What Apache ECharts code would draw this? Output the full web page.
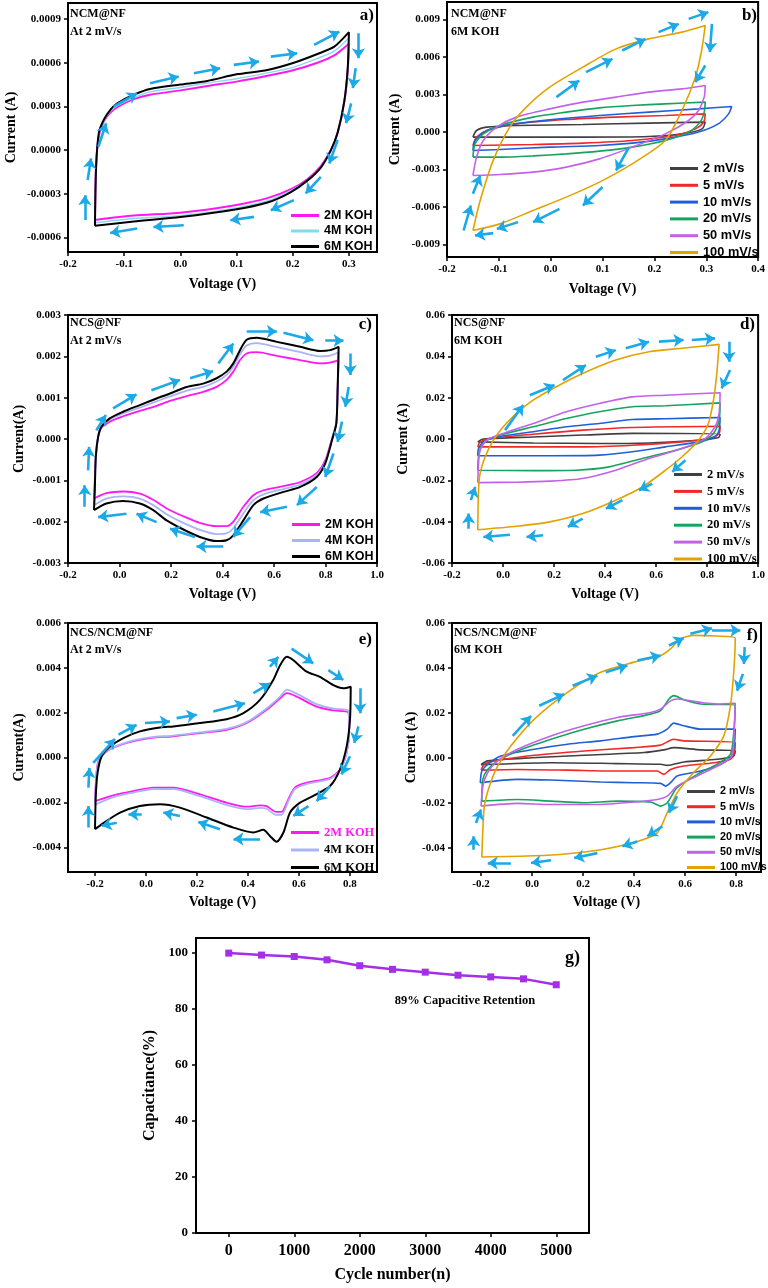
<!DOCTYPE html>
<html>
<head>
<meta charset="utf-8">
<script src="https://cdn.jsdelivr.net/npm/echarts@6/dist/echarts.min.js"></script>
<style>html,body{margin:0;padding:0;background:#fff}#c{width:768px;height:1288px}</style>
</head>
<body>
<div id="c"></div>
<script>
// ---------- DATA ----------
// Panel a: NCM@NF at 2 mV/s (V, A)
const a_2M = [[-0.152,-0.00048],[-0.150,-0.0001],[-0.145,0.0001],[-0.136,0.0002],[-0.124,0.00026],[-0.11,0.0003],[-0.083,0.00035],[-0.054,0.00038],[0.0,0.00041],[0.048,0.00044],[0.1,0.00047],[0.155,0.00051],[0.202,0.00055],[0.244,0.0006],[0.274,0.00065],[0.300,0.00073],[0.298,0.00055],[0.292,0.00034],[0.28,0.00012],[0.268,0.0],[0.25,-0.00011],[0.226,-0.0002],[0.196,-0.00027],[0.155,-0.00033],[0.095,-0.00038],[0.0,-0.00043],[-0.083,-0.00045],[-0.152,-0.00048]];
const a_4M = [[-0.152,-0.0005],[-0.150,-0.00011],[-0.145,0.00011],[-0.136,0.0002],[-0.124,0.00027],[-0.11,0.00031],[-0.083,0.00036],[-0.054,0.0004],[0.0,0.00043],[0.048,0.00046],[0.1,0.00049],[0.155,0.00053],[0.202,0.00057],[0.244,0.00063],[0.274,0.00068],[0.300,0.00077],[0.298,0.00056],[0.292,0.00034],[0.28,0.00012],[0.268,0.0],[0.25,-0.00012],[0.226,-0.00021],[0.196,-0.00028],[0.155,-0.00035],[0.095,-0.0004],[0.0,-0.00045],[-0.083,-0.00047],[-0.152,-0.0005]];
const a_6M = [[-0.152,-0.00052],[-0.150,-0.00012],[-0.145,0.00012],[-0.136,0.00021],[-0.124,0.00028],[-0.113,0.00032],[-0.083,0.00038],[-0.054,0.00042],[0.0,0.00045],[0.048,0.000475],[0.1,0.00052],[0.155,0.00055],[0.202,0.0006],[0.244,0.00066],[0.274,0.00071],[0.300,0.00081],[0.298,0.00057],[0.292,0.00034],[0.28,0.00012],[0.268,0.0],[0.25,-0.00012],[0.226,-0.00021],[0.196,-0.00029],[0.155,-0.00036],[0.095,-0.00041],[0.0,-0.00046],[-0.083,-0.00049],[-0.152,-0.00052]];
const a_arrows = [[-0.170,-0.00048,-0.170,-0.00031],[-0.165,-0.000206,-0.159,-0.000057],[-0.146,0.000023,-0.132,0.000184],[-0.119,0.000298,-0.077,0.00039],[-0.054,0.000459,-0.003,0.000505],[0.024,0.000528,0.071,0.000562],[0.095,0.000585,0.140,0.000608],[0.161,0.000642,0.208,0.000665],[0.238,0.000723,0.283,0.000814],[0.317,0.000803,0.317,0.000631],[0.312,0.000562,0.307,0.000425],[0.304,0.000321,0.295,0.000184],[0.280,0.000069,0.265,-0.000092],[0.25,-0.000184,0.223,-0.000298],[0.202,-0.000344,0.161,-0.000413],[0.131,-0.000459,0.089,-0.000482],[0.006,-0.000516,-0.048,-0.000528],[-0.077,-0.000539,-0.125,-0.000569]];

// Panel b: NCM@NF 6M KOH, scan rates
const b_2 = [[-0.150,-0.00041],[-0.143,0.00012],[-0.123,0.00039],[-0.066,0.00052],[0.062,0.0006],[0.189,0.00071],[0.298,0.00079],[0.292,0.00025],[0.253,-0.00015],[0.189,-0.00036],[0.062,-0.00041],[-0.066,-0.00041],[-0.150,-0.00041]];
const b_5 = [[-0.150,-0.00108],[-0.143,-0.00041],[-0.123,0.00012],[-0.066,0.00065],[0.030,0.001],[0.126,0.00119],[0.221,0.00132],[0.298,0.00145],[0.295,0.00079],[0.279,0.00025],[0.240,-0.00028],[0.157,-0.00068],[0.062,-0.00089],[-0.034,-0.001],[-0.150,-0.00108]];
const b_10 = [[-0.150,-0.00148],[-0.146,-0.00068],[-0.123,0.00012],[-0.079,0.00059],[-0.002,0.00097],[0.094,0.00132],[0.189,0.00159],[0.285,0.00185],[0.349,0.00204],[0.343,0.00145],[0.323,0.00065],[0.285,0.0],[0.221,-0.00055],[0.157,-0.00089],[0.094,-0.00108],[-0.002,-0.00121],[-0.098,-0.0014],[-0.150,-0.00148]];
const b_20 = [[-0.150,-0.00201],[-0.146,-0.00095],[-0.130,-0.00015],[-0.098,0.00052],[-0.034,0.00119],[0.030,0.00159],[0.094,0.00193],[0.157,0.00212],[0.221,0.00225],[0.298,0.00239],[0.296,0.00159],[0.288,0.00079],[0.266,-0.00001],[0.221,-0.00068],[0.157,-0.00121],[0.094,-0.00153],[0.030,-0.00175],[-0.034,-0.00191],[-0.098,-0.00201],[-0.150,-0.00201]];
const b_50 = [[-0.150,-0.00348],[-0.143,-0.00201],[-0.130,-0.00068],[-0.104,0.00039],[-0.066,0.00119],[-0.002,0.00185],[0.062,0.00239],[0.126,0.00279],[0.189,0.00319],[0.253,0.00345],[0.298,0.00372],[0.296,0.00279],[0.285,0.00172],[0.266,0.00092],[0.221,-0.00015],[0.157,-0.00121],[0.094,-0.00215],[0.030,-0.00281],[-0.034,-0.00321],[-0.098,-0.0034],[-0.150,-0.00348]];
const b_100 = [[-0.150,-0.00788],[-0.136,-0.00548],[-0.111,-0.00229],[-0.079,0.00039],[-0.047,0.00199],[-0.002,0.00359],[0.062,0.00519],[0.126,0.00665],[0.189,0.00745],[0.253,0.00799],[0.298,0.00852],[0.291,0.00652],[0.279,0.00439],[0.253,0.00172],[0.221,-0.00068],[0.157,-0.00255],[0.094,-0.00401],[0.030,-0.00521],[-0.034,-0.00628],[-0.098,-0.00735],[-0.150,-0.00788]];
const b_arrows = [[-0.168,-0.00788,-0.154,-0.00588],[-0.150,-0.00494,-0.136,-0.00348],[0.011,0.00279,0.055,0.00412],[0.068,0.00479,0.119,0.00585],[0.138,0.00652,0.183,0.00745],[0.208,0.00799,0.247,0.00865],[0.266,0.00905,0.304,0.00959],[0.311,0.00865,0.307,0.00639],[0.298,0.00532,0.279,0.00399],[0.151,-0.00121,0.126,-0.00308],[0.100,-0.0044,0.062,-0.00588],[0.017,-0.00615,-0.034,-0.00721],[-0.063,-0.00721,-0.104,-0.00775],[-0.111,-0.00809,-0.146,-0.00828]];

// Panel c: NCS@NF at 2 mV/s
const c_2M = [[-0.099,-0.00144],[-0.096,-0.0010],[-0.092,-0.00043],[-0.077,0.00021],[-0.038,0.00042],[0.014,0.00055],[0.079,0.00068],[0.144,0.0008],[0.196,0.00092],[0.261,0.00104],[0.325,0.00114],[0.377,0.00126],[0.416,0.00143],[0.442,0.00163],[0.468,0.00191],[0.494,0.00207],[0.533,0.0021],[0.611,0.00201],[0.702,0.00191],[0.779,0.00183],[0.818,0.00185],[0.851,0.0019],[0.847,0.00118],[0.842,0.00038],[0.825,0.0],[0.799,-0.00051],[0.766,-0.00082],[0.702,-0.00104],[0.637,-0.00114],[0.559,-0.00124],[0.520,-0.00136],[0.481,-0.00164],[0.442,-0.002],[0.416,-0.00211],[0.377,-0.00211],[0.312,-0.00203],[0.248,-0.00187],[0.183,-0.00168],[0.131,-0.00147],[0.079,-0.00132],[0.014,-0.00127],[-0.051,-0.00131],[-0.099,-0.00144]];
const c_4M = [[-0.099,-0.0016],[-0.096,-0.0012],[-0.092,-0.00043],[-0.083,0.00005],[-0.070,0.00027],[-0.038,0.00047],[0.014,0.00062],[0.079,0.00076],[0.144,0.00091],[0.196,0.00103],[0.261,0.00117],[0.325,0.00126],[0.377,0.00139],[0.416,0.00155],[0.442,0.00175],[0.468,0.00205],[0.494,0.00226],[0.533,0.00232],[0.611,0.00222],[0.702,0.0021],[0.779,0.002],[0.818,0.00202],[0.851,0.0021],[0.847,0.00118],[0.842,0.00038],[0.825,-0.00002],[0.799,-0.00055],[0.766,-0.00087],[0.702,-0.0011],[0.637,-0.00121],[0.559,-0.00134],[0.520,-0.00148],[0.481,-0.0018],[0.442,-0.00216],[0.416,-0.00228],[0.377,-0.0023],[0.312,-0.0022],[0.248,-0.00203],[0.183,-0.00182],[0.131,-0.0016],[0.079,-0.00144],[0.014,-0.00139],[-0.051,-0.00144],[-0.099,-0.0016]];
const c_6M = [[-0.099,-0.00172],[-0.096,-0.00124],[-0.092,-0.00043],[-0.083,0.00005],[-0.070,0.0003],[-0.038,0.0005],[0.014,0.00066],[0.079,0.00082],[0.144,0.00098],[0.196,0.0011],[0.261,0.00126],[0.325,0.00134],[0.377,0.00147],[0.416,0.00163],[0.442,0.00183],[0.468,0.00215],[0.494,0.0024],[0.533,0.00245],[0.611,0.00235],[0.702,0.00223],[0.779,0.00213],[0.818,0.00215],[0.851,0.00223],[0.847,0.00118],[0.842,0.00038],[0.825,-0.00003],[0.799,-0.00059],[0.766,-0.00092],[0.702,-0.00116],[0.637,-0.00128],[0.559,-0.00144],[0.520,-0.0016],[0.481,-0.00197],[0.442,-0.00233],[0.416,-0.00245],[0.377,-0.00247],[0.312,-0.00237],[0.248,-0.00219],[0.183,-0.00197],[0.131,-0.00172],[0.079,-0.00156],[0.014,-0.0015],[-0.051,-0.00156],[-0.099,-0.00172]];
const c_arrows = [[-0.135,-0.00164,-0.135,-0.00112],[-0.122,-0.00076,-0.118,-0.00019],[-0.090,0.00021,-0.053,0.00058],[-0.025,0.00074,0.066,0.00108],[0.124,0.00118,0.235,0.00143],[0.274,0.00147,0.364,0.00164],[0.384,0.00183,0.442,0.00231],[0.494,0.0026,0.611,0.0026],[0.637,0.00257,0.753,0.00239],[0.799,0.00238,0.870,0.00238],[0.896,0.00207,0.896,0.00155],[0.890,0.00126,0.877,0.00078],[0.864,0.00042,0.847,-0.00007],[0.831,-0.00035,0.799,-0.00092],[0.766,-0.00116,0.689,-0.0016],[0.650,-0.00164,0.546,-0.00177],[0.507,-0.00189,0.442,-0.00237],[0.403,-0.0026,0.299,-0.0026],[0.293,-0.00237,0.196,-0.00217],[0.144,-0.00201,0.066,-0.00181],[0.027,-0.00181,-0.083,-0.00189]];

// Panel d: NCS@NF 6M KOH
const d_2 = [[-0.099,-0.0014],[-0.077,0.0],[0.118,0.001],[0.312,0.0019],[0.507,0.0027],[0.851,0.0023],[0.845,0.0007],[0.766,-0.0006],[0.572,-0.0019],[0.377,-0.0022],[0.118,-0.0019],[-0.099,-0.0014]];
const d_5 = [[-0.099,-0.0038],[-0.090,-0.0014],[-0.051,0.0002],[0.118,0.0023],[0.312,0.0043],[0.507,0.0056],[0.851,0.0062],[0.847,0.0027],[0.818,0.0006],[0.702,-0.0014],[0.507,-0.003],[0.312,-0.0038],[-0.099,-0.0038]];
const d_10 = [[-0.099,-0.0081],[-0.096,-0.0046],[-0.077,-0.0014],[-0.025,0.001],[0.118,0.0035],[0.248,0.0059],[0.377,0.0075],[0.507,0.0094],[0.637,0.0098],[0.851,0.0104],[0.847,0.0043],[0.831,0.0011],[0.766,-0.0014],[0.637,-0.0038],[0.507,-0.0062],[0.377,-0.0078],[0.183,-0.0081],[-0.099,-0.0081]];
const d_20 = [[-0.099,-0.0151],[-0.096,-0.0086],[-0.083,-0.003],[-0.051,0.0002],[0.001,0.0023],[0.118,0.0059],[0.248,0.0099],[0.377,0.0132],[0.507,0.0156],[0.637,0.0161],[0.851,0.0175],[0.847,0.0091],[0.825,0.0027],[0.779,-0.0014],[0.676,-0.0054],[0.546,-0.0094],[0.416,-0.0135],[0.286,-0.0151],[0.118,-0.0153],[-0.099,-0.0151]];
const d_50 = [[-0.099,-0.0211],[-0.096,-0.0119],[-0.090,-0.0054],[-0.064,-0.0006],[0.001,0.0027],[0.118,0.0075],[0.248,0.0132],[0.377,0.0172],[0.507,0.0204],[0.637,0.0212],[0.851,0.0224],[0.847,0.0124],[0.831,0.0059],[0.792,0.0002],[0.702,-0.0046],[0.572,-0.0094],[0.442,-0.0151],[0.312,-0.0191],[0.183,-0.0204],[0.053,-0.0209],[-0.099,-0.0211]];
const d_100 = [[-0.099,-0.0439],[-0.096,-0.0248],[-0.090,-0.0167],[-0.070,-0.0086],[-0.038,-0.0006],[0.001,0.0059],[0.053,0.0124],[0.118,0.0188],[0.209,0.0253],[0.312,0.0317],[0.442,0.0382],[0.572,0.0422],[0.702,0.0439],[0.847,0.0458],[0.838,0.0317],[0.825,0.0188],[0.805,0.0075],[0.766,-0.0006],[0.702,-0.0086],[0.637,-0.0151],[0.546,-0.0232],[0.442,-0.0296],[0.312,-0.0361],[0.183,-0.0401],[0.053,-0.0422],[-0.099,-0.0439]];
const d_arrows = [[-0.135,-0.0434,-0.135,-0.0361],[-0.126,-0.0296,-0.109,-0.0232],[0.008,0.0043,0.079,0.0164],[0.105,0.0212,0.202,0.0261],[0.235,0.0285,0.325,0.0358],[0.364,0.0398,0.442,0.0430],[0.481,0.0439,0.572,0.0471],[0.611,0.0471,0.708,0.0479],[0.740,0.0479,0.831,0.0487],[0.886,0.0471,0.886,0.0374],[0.890,0.0334,0.857,0.0245],[0.715,-0.0103,0.663,-0.0159],[0.585,-0.0216,0.533,-0.0248],[0.468,-0.0296,0.403,-0.0337],[0.312,-0.0385,0.254,-0.0425],[0.157,-0.0466,0.092,-0.0474],[0.027,-0.0463,-0.077,-0.0474]];

// Panel e: NCS/NCM@NF at 2 mV/s
const e_2M = [[-0.2,-0.00194],[-0.196,-0.00097],[-0.187,-0.00016],[-0.154,0.00028],[-0.076,0.00065],[0.016,0.00087],[0.107,0.00095],[0.212,0.00109],[0.316,0.00124],[0.395,0.00154],[0.473,0.00213],[0.526,0.00264],[0.552,0.00287],[0.591,0.00272],[0.669,0.00227],[0.735,0.0021],[0.794,0.00201],[0.797,0.00124],[0.787,0.00021],[0.761,-0.00053],[0.722,-0.0009],[0.630,-0.00112],[0.584,-0.00134],[0.558,-0.00186],[0.532,-0.00242],[0.510,-0.00242],[0.473,-0.00216],[0.447,-0.00213],[0.395,-0.00219],[0.316,-0.00201],[0.212,-0.00164],[0.107,-0.00134],[0.029,-0.00134],[-0.050,-0.00149],[-0.128,-0.00168],[-0.2,-0.00194]];
const e_4M = [[-0.2,-0.0021],[-0.196,-0.001],[-0.187,-0.0002],[-0.154,0.0003],[-0.076,0.00068],[0.016,0.0009],[0.107,0.00098],[0.212,0.00112],[0.316,0.00128],[0.395,0.00158],[0.473,0.00219],[0.526,0.00272],[0.552,0.00303],[0.591,0.00285],[0.669,0.00238],[0.735,0.00218],[0.794,0.0021],[0.797,0.0013],[0.787,0.00022],[0.761,-0.00056],[0.722,-0.00095],[0.630,-0.00118],[0.584,-0.0014],[0.558,-0.00195],[0.532,-0.00255],[0.510,-0.00255],[0.473,-0.00228],[0.447,-0.00224],[0.395,-0.0023],[0.316,-0.00211],[0.212,-0.00172],[0.107,-0.0014],[0.029,-0.0014],[-0.050,-0.00156],[-0.128,-0.00176],[-0.2,-0.0021]];
const e_6M = [[-0.2,-0.00319],[-0.197,-0.00171],[-0.190,-0.00068],[-0.174,0.00006],[-0.141,0.0005],[-0.089,0.00087],[-0.024,0.00117],[0.055,0.00134],[0.107,0.00139],[0.212,0.00154],[0.316,0.00171],[0.382,0.00198],[0.447,0.00257],[0.499,0.00346],[0.526,0.00412],[0.552,0.00449],[0.578,0.00434],[0.630,0.00383],[0.682,0.0036],[0.735,0.00323],[0.774,0.00309],[0.803,0.00316],[0.800,0.00168],[0.787,0.0005],[0.761,-0.00053],[0.722,-0.00127],[0.656,-0.00171],[0.604,-0.00201],[0.565,-0.00245],[0.539,-0.00334],[0.512,-0.00375],[0.486,-0.00349],[0.460,-0.00322],[0.421,-0.00334],[0.343,-0.00312],[0.238,-0.00267],[0.133,-0.00223],[0.055,-0.00208],[-0.024,-0.00216],[-0.102,-0.00245],[-0.154,-0.00282],[-0.2,-0.00319]];
const e_arrows = [[-0.226,-0.00312,-0.226,-0.00216],[-0.226,-0.00134,-0.222,-0.00046],[-0.207,-0.00024,-0.122,0.00083],[-0.108,0.00102,-0.037,0.00146],[-0.004,0.00154,0.094,0.00161],[0.12,0.00176,0.199,0.00191],[0.264,0.00205,0.388,0.00242],[0.421,0.00287,0.486,0.00331],[0.486,0.00405,0.519,0.00449],[0.571,0.00486,0.656,0.0042],[0.715,0.0039,0.774,0.00346],[0.839,0.00309,0.839,0.00198],[0.833,0.00139,0.817,0.00065],[0.800,0.00006,0.767,-0.00075],[0.722,-0.00127,0.669,-0.00194],[0.637,-0.00216,0.578,-0.0026],[0.447,-0.00363,0.343,-0.00363],[0.290,-0.00319,0.205,-0.00287],[0.133,-0.0026,0.068,-0.00245],[-0.017,-0.00253,-0.069,-0.00253],[-0.115,-0.0029,-0.174,-0.00304]];

// Panel f: NCS/NCM@NF 6M KOH
const f_2 = [[-0.2,-0.003],[-0.174,-0.0013],[-0.001,0.0001],[0.204,0.0012],[0.439,0.0024],[0.517,0.0036],[0.556,0.0046],[0.661,0.0036],[0.797,0.0031],[0.791,0.0009],[0.726,-0.0006],[0.595,-0.0018],[0.530,-0.0033],[0.504,-0.0028],[0.335,-0.0025],[0.074,-0.0021],[-0.2,-0.003]];
const f_5 = [[-0.2,-0.0054],[-0.187,-0.0028],[-0.148,-0.0013],[0.009,0.0012],[0.204,0.0031],[0.400,0.0046],[0.504,0.0057],[0.556,0.0083],[0.595,0.0076],[0.797,0.0068],[0.793,0.0024],[0.778,-0.0006],[0.713,-0.0021],[0.595,-0.0036],[0.543,-0.0051],[0.517,-0.0073],[0.491,-0.0058],[0.335,-0.0058],[0.139,-0.0054],[-0.057,-0.0051],[-0.2,-0.0054]];
const f_10 = [[-0.203,-0.011],[-0.197,-0.0058],[-0.174,-0.0028],[-0.122,0.0009],[0.009,0.0039],[0.139,0.0061],[0.269,0.0076],[0.400,0.0095],[0.491,0.0106],[0.530,0.0128],[0.556,0.0155],[0.595,0.0143],[0.661,0.0128],[0.797,0.0128],[0.793,0.0054],[0.778,0.0001],[0.726,-0.0036],[0.661,-0.0058],[0.569,-0.008],[0.543,-0.011],[0.524,-0.0125],[0.504,-0.0113],[0.400,-0.011],[0.269,-0.0107],[0.074,-0.0098],[-0.057,-0.0095],[-0.203,-0.011]];
const f_20 = [[-0.197,-0.0192],[-0.193,-0.0095],[-0.174,-0.0051],[-0.135,-0.0013],[-0.057,0.0031],[0.074,0.0083],[0.204,0.0128],[0.335,0.0165],[0.465,0.0195],[0.504,0.021],[0.537,0.0262],[0.556,0.0277],[0.595,0.0259],[0.661,0.024],[0.797,0.0235],[0.791,0.0113],[0.778,0.0016],[0.726,-0.0028],[0.648,-0.0073],[0.569,-0.0132],[0.530,-0.0199],[0.504,-0.0214],[0.465,-0.0196],[0.335,-0.0192],[0.204,-0.0199],[0.074,-0.0192],[-0.057,-0.0185],[-0.197,-0.0192]];
const f_50 = [[-0.2,-0.0214],[-0.193,-0.0125],[-0.174,-0.0065],[-0.135,-0.0013],[-0.057,0.0039],[0.074,0.0098],[0.204,0.0143],[0.335,0.018],[0.465,0.0202],[0.504,0.0217],[0.543,0.0254],[0.569,0.0262],[0.661,0.0247],[0.726,0.024],[0.797,0.0243],[0.793,0.0128],[0.784,0.0009],[0.726,-0.0036],[0.648,-0.008],[0.569,-0.0125],[0.530,-0.017],[0.491,-0.0185],[0.400,-0.0196],[0.269,-0.0207],[0.074,-0.0207],[-0.057,-0.0202],[-0.2,-0.0214]];
const f_100 = [[-0.197,-0.044],[-0.193,-0.0318],[-0.187,-0.0214],[-0.167,-0.0125],[-0.135,-0.0036],[-0.083,0.0054],[0.009,0.0173],[0.139,0.0292],[0.269,0.0381],[0.400,0.0426],[0.504,0.0455],[0.543,0.0485],[0.582,0.053],[0.634,0.0545],[0.726,0.0542],[0.797,0.0533],[0.791,0.0381],[0.778,0.0232],[0.752,0.0098],[0.700,0.0009],[0.634,-0.0065],[0.569,-0.0155],[0.530,-0.0244],[0.491,-0.0333],[0.413,-0.0371],[0.269,-0.0408],[0.139,-0.0426],[0.009,-0.0435],[-0.197,-0.044]];
const f_arrows = [[-0.229,-0.0408,-0.229,-0.0348],[-0.220,-0.0289,-0.2,-0.0229],[-0.076,0.0098,-0.004,0.0187],[0.028,0.0232,0.126,0.0284],[0.159,0.0321,0.256,0.0366],[0.289,0.0381,0.374,0.0411],[0.413,0.0433,0.504,0.0455],[0.537,0.05,0.595,0.0533],[0.621,0.0552,0.706,0.0577],[0.706,0.0567,0.817,0.0567],[0.834,0.0493,0.831,0.0418],[0.827,0.0374,0.804,0.0299],[0.569,-0.017,0.537,-0.0244],[0.511,-0.0304,0.452,-0.0348],[0.413,-0.0371,0.354,-0.0393],[0.256,-0.0423,0.165,-0.0445],[0.074,-0.0455,-0.004,-0.0467],[-0.083,-0.0467,-0.174,-0.0467]];

// Panel g: cycling stability
const g_cycles = [0,500,1000,1500,2000,2500,3000,3500,4000,4500,5000];
const g_capacitance = [100,99.3,98.8,97.6,95.5,94.2,93.2,92.1,91.5,90.8,88.7];

// Tick labels
const ticks_a_x = [-0.2,-0.1,0.0,0.1,0.2,0.3];
const ticks_a_y = [-0.0006,-0.0003,0.0,0.0003,0.0006,0.0009];
const ticks_b_x = [-0.2,-0.1,0.0,0.1,0.2,0.3,0.4];
const ticks_b_y = [-0.009,-0.006,-0.003,0.0,0.003,0.006,0.009];
const ticks_cd_x = [-0.2,0.0,0.2,0.4,0.6,0.8,1.0];
const ticks_c_y = [-0.003,-0.002,-0.001,0.0,0.001,0.002,0.003];
const ticks_d_y = [-0.06,-0.04,-0.02,0.0,0.02,0.04,0.06];
const ticks_ef_x = [-0.2,0.0,0.2,0.4,0.6,0.8];
const ticks_e_y = [-0.004,-0.002,0.0,0.002,0.004,0.006];
const ticks_f_y = [-0.04,-0.02,0.0,0.02,0.04,0.06];
const ticks_g_x = [0,1000,2000,3000,4000,5000];
const ticks_g_y = [0,20,40,60,80,100];

// ---------- CHART ----------
const SERIF = '"Liberation Serif","Times New Roman",serif';
const SANS = '"Liberation Sans",Arial,sans-serif';
const ARROW = '#1ba9e8';
const C2='#404040', C5='#f02828', C10='#1f5fd8', C20='#17a35e', C50='#c262ea', C100='#e2a200';

const grids = [
  {left:68, top:3, width:309, height:249},
  {left:447, top:2, width:314, height:255},
  {left:68, top:315, width:309, height:248},
  {left:452, top:315, width:309, height:248},
  {left:68, top:623, width:309, height:249},
  {left:452, top:623, width:309, height:249},
  {left:196, top:938, width:393, height:295}
].map(g => Object.assign({show:true, borderColor:'#000', borderWidth:2, backgroundColor:'transparent'}, g));

function axis(gi, min, max, vals, dec, name, gap, fs, lfs, margin){
  return {type:'value', gridIndex:gi, min:min, max:max, scale:true,
    axisLine:{show:true, onZero:false, lineStyle:{color:'#000', width:2}},
    axisTick:{show:true, inside:false, length:4, customValues:vals, lineStyle:{color:'#000', width:1.5}},
    axisLabel:{customValues:vals, margin:margin||7, color:'#000', fontFamily:SERIF, fontWeight:'bold', fontSize:lfs||11,
      formatter: v => dec===null ? String(v) : Number(v).toFixed(dec)},
    splitLine:{show:false},
    name:name, nameLocation:'middle', nameGap:gap,
    nameTextStyle:{color:'#000', fontFamily:SERIF, fontWeight:'bold', fontSize:fs||14}};
}

const xAxis = [
  axis(0,-0.2,0.35,ticks_a_x,1,'Voltage (V)',25),
  axis(1,-0.2,0.4,ticks_b_x,1,'Voltage (V)',25),
  axis(2,-0.2,1.0,ticks_cd_x,1,'Voltage (V)',24),
  axis(3,-0.2,1.0,ticks_cd_x,1,'Voltage (V)',24),
  axis(4,-0.306,0.906,ticks_ef_x,1,'Voltage (V)',23),
  axis(5,-0.314,0.898,ticks_ef_x,1,'Voltage (V)',23),
  axis(6,-500,5500,ticks_g_x,null,'Cycle number(n)',34,16,16,10)
];
const yAxis = [
  axis(0,-0.0007,0.00101,ticks_a_y,4,'Current (A)',50),
  axis(1,-0.0100,0.0104,ticks_b_y,3,'Current (A)',45),
  axis(2,-0.003,0.003,ticks_c_y,3,'Current(A)',42),
  axis(3,-0.06,0.06,ticks_d_y,2,'Current (A)',42),
  axis(4,-0.0051,0.006,ticks_e_y,3,'Current(A)',42),
  axis(5,-0.0507,0.06,ticks_f_y,2,'Current (A)',34),
  axis(6,0,105.4,ticks_g_y,null,'Capacitance(%)',36,16,13,8)
];

function loop(gi, tag, name, data, color, width){
  return {type:'line', name: tag+'|'+name, xAxisIndex:gi, yAxisIndex:gi, data:data,
    showSymbol:false, symbol:'none', smooth:0.25, animation:false, silent:true,
    color:color, itemStyle:{color:color}, lineStyle:{color:color, width:width||1.6}};
}
function arrows(gi, list){
  return {type:'lines', coordinateSystem:'cartesian2d', xAxisIndex:gi, yAxisIndex:gi,
    symbol:['none','arrow'], symbolSize:10, silent:true, animation:false, z:5,
    lineStyle:{color:ARROW, width:2.6, opacity:1, curveness:0},
    data:list.map(s => ({coords:[[s[0],s[1]],[s[2],s[3]]]}))};
}

const series = [
  loop(0,'a','2M KOH',a_2M,'#ff19f0',2), loop(0,'a','4M KOH',a_4M,'#86d8f2',1.4), loop(0,'a','6M KOH',a_6M,'#000',2), arrows(0,a_arrows),
  loop(1,'b','2 mV/s',b_2,C2), loop(1,'b','5 mV/s',b_5,C5), loop(1,'b','10 mV/s',b_10,C10), loop(1,'b','20 mV/s',b_20,C20), loop(1,'b','50 mV/s',b_50,C50), loop(1,'b','100 mV/s',b_100,C100), arrows(1,b_arrows),
  loop(2,'c','2M KOH',c_2M,'#ff19f0',1.8), loop(2,'c','4M KOH',c_4M,'#aab4f2',1.8), loop(2,'c','6M KOH',c_6M,'#000',2), arrows(2,c_arrows),
  loop(3,'d','2 mV/s',d_2,C2), loop(3,'d','5 mV/s',d_5,C5), loop(3,'d','10 mV/s',d_10,C10), loop(3,'d','20 mV/s',d_20,C20), loop(3,'d','50 mV/s',d_50,C50), loop(3,'d','100 mV/s',d_100,C100), arrows(3,d_arrows),
  loop(4,'e','2M KOH',e_2M,'#ff19f0',1.8), loop(4,'e','4M KOH',e_4M,'#aab4f2',1.8), loop(4,'e','6M KOH',e_6M,'#000',2), arrows(4,e_arrows),
  loop(5,'f','2 mV/s',f_2,C2), loop(5,'f','5 mV/s',f_5,C5), loop(5,'f','10 mV/s',f_10,C10), loop(5,'f','20 mV/s',f_20,C20), loop(5,'f','50 mV/s',f_50,C50), loop(5,'f','100 mV/s',f_100,C100), arrows(5,f_arrows),
  {type:'line', name:'g|cap', xAxisIndex:6, yAxisIndex:6, data:g_cycles.map((c,i)=>[c,g_capacitance[i]]),
   symbol:'rect', symbolSize:7, showSymbol:true, animation:false, silent:true,
   itemStyle:{color:'#a52ee8'}, lineStyle:{color:'#a52ee8', width:2.5}}
];

function legend(tag, names, left, top, gap, font, fsz, rich){
  return {orient:'vertical', left:left, top:top, itemGap:gap, itemWidth:28, itemHeight:3, icon:'rect',
    data:names.map(n => tag+'|'+n), selectedMode:false,
    formatter: n => { const t = n.split('|')[1]; return (rich && t==='2M KOH') ? '{m|'+t+'}' : t; },
    textStyle:{color:'#000', fontFamily:font, fontWeight:'bold', fontSize:fsz, lineHeight:fsz, padding:0,
      rich: rich ? {m:{color:'#ff19f0', fontFamily:font, fontWeight:'bold', fontSize:fsz}} : undefined}};
}
const KOH = ['2M KOH','4M KOH','6M KOH'];
const RATES = ['2 mV/s','5 mV/s','10 mV/s','20 mV/s','50 mV/s','100 mV/s'];
const legendList = [
  legend('a', KOH, 286, 204, 2.5, SANS, 12.5),
  legend('b', RATES, 665, 157, 3.8, SANS, 12.8),
  legend('c', KOH, 287, 513, 3, SANS, 12.5),
  legend('d', RATES, 669, 463, 3.9, SERIF, 12.5),
  legend('e', KOH, 286, 821, 4.5, SERIF, 12.5, true),
  legend('f', RATES, 682, 781, 4.2, SANS, 10.8)
];

function txt(x, y, text, size, align){
  return {type:'text', x:x, y:y, silent:true, z:100,
    style:{text:text, fill:'#000', font:'bold '+size+'px '+SERIF, align:align||'left', verticalAlign:'middle'}};
}
const graphic = [
  txt(70,14,'NCM@NF',12), txt(70,32,'At 2 mV/s',12), txt(374,16,'a)',17,'right'),
  txt(451,14,'NCM@NF',12), txt(451,32,'6M KOH',12), txt(757,16,'b)',17,'right'),
  txt(70,323,'NCS@NF',12), txt(70,341,'At 2 mV/s',12), txt(372,325,'c)',17,'right'),
  txt(454,323,'NCS@NF',12), txt(454,341,'6M KOH',12), txt(755,325,'d)',17,'right'),
  txt(70,633,'NCS/NCM@NF',12), txt(70,650,'At 2 mV/s',12), txt(372,640,'e)',17,'right'),
  txt(454,633,'NCS/NCM@NF',12), txt(454,650,'6M KOH',12), txt(758,636,'f)',17,'right'),
  txt(580,958,'g)',18,'right'),
  txt(465,1001,'89% Capacitive Retention',12.5,'center')
];

const chart = echarts.init(document.getElementById('c'), null, {renderer:'canvas'});
chart.setOption({animation:false, backgroundColor:'#fff', grid:grids, xAxis:xAxis, yAxis:yAxis,
  series:series, legend:legendList, graphic:graphic});
</script>
</body>
</html>
